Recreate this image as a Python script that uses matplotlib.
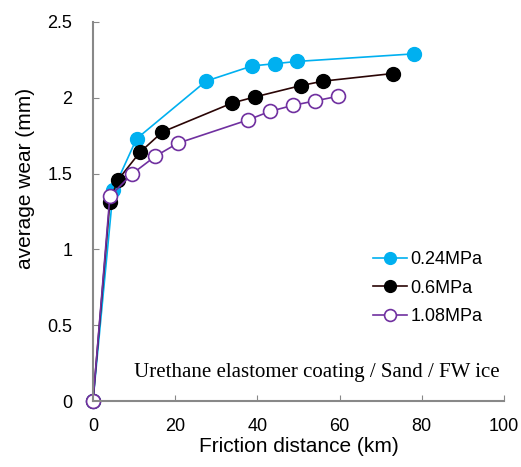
import matplotlib.pyplot as plt

# distance (km) / usure moyenne (mm)
dist_024 = [0, 4.9, 10.6, 27.5, 38.7, 44.2, 49.7, 78.2]
wear_024 = [0, 1.39, 1.73, 2.11, 2.21, 2.225, 2.24, 2.29]

dist_06 = [0, 4.1, 6.0, 11.4, 16.9, 33.9, 39.3, 50.5, 56.0, 72.9]
wear_06 = [0, 1.315, 1.456, 1.64, 1.775, 1.966, 2.005, 2.08, 2.11, 2.16]

dist_108 = [0, 4.1, 9.6, 15.2, 20.6, 37.6, 43.0, 48.6, 54.1, 59.6]
wear_108 = [0, 1.35, 1.50, 1.615, 1.70, 1.853, 1.91, 1.95, 1.98, 2.01]

plt.rcParams['font.family'] = ['Liberation Sans', 'DejaVu Sans']

fig = plt.figure(figsize=(5.21, 4.67), dpi=100)
# axes : x de 93 à 504 px, y de 22 à 401 px
ax = fig.add_axes([93 / 521, 66 / 467, 411 / 521, 379 / 467])

ax.plot(dist_024, wear_024, '-o', color='#00b0f0', lw=1.2, ms=10, label='0.24MPa')
ax.plot(dist_06, wear_06, '-o', color='#2a0505', mfc='black', mec='black', lw=1.2, ms=10, label='0.6MPa')
ax.plot(dist_108, wear_108, '-o', color='#7030a0', mfc='white', mec='#7030a0', mew=1.2, lw=1.2, ms=10, label='1.08MPa')

ax.set_xlim(0, 100)
ax.set_ylim(0, 2.5)
ax.set_xticks([0, 20, 40, 60, 80, 100])
ax.set_yticks([0, 0.5, 1, 1.5, 2, 2.5])
ax.set_yticklabels(['0', '0.5', '1', '1.5', '2', '2.5'])
ax.tick_params(direction='in', length=4, color='#888888', labelsize=13)
ax.tick_params(axis='y', pad=15)
ax.tick_params(axis='x', pad=12)
for s in ['top', 'right']:
    ax.spines[s].set_visible(False)
for s in ['left', 'bottom']:
    ax.spines[s].set_color('#888888')
    ax.spines[s].set_linewidth(1.5)
for l in ax.lines:
    l.set_clip_on(False)

ax.set_xlabel('Friction distance (km)', fontsize=15, labelpad=2)
ax.set_ylabel('average wear (mm)', fontsize=15)
ax.yaxis.set_label_coords(-0.141, 0.588)

leg = ax.legend(loc='upper left', bbox_to_anchor=(0.664, 0.415), frameon=False, fontsize=13,
                handlelength=1.85, handletextpad=0.2, labelspacing=0.65, borderaxespad=0,
                markerscale=0.85)
ax.text(0.99, 0.074, 'Urethane elastomer coating / Sand / FW ice', transform=ax.transAxes,
        ha='right', va='center', fontsize=15, family='Liberation Serif')

plt.savefig('out.png', dpi=100)
